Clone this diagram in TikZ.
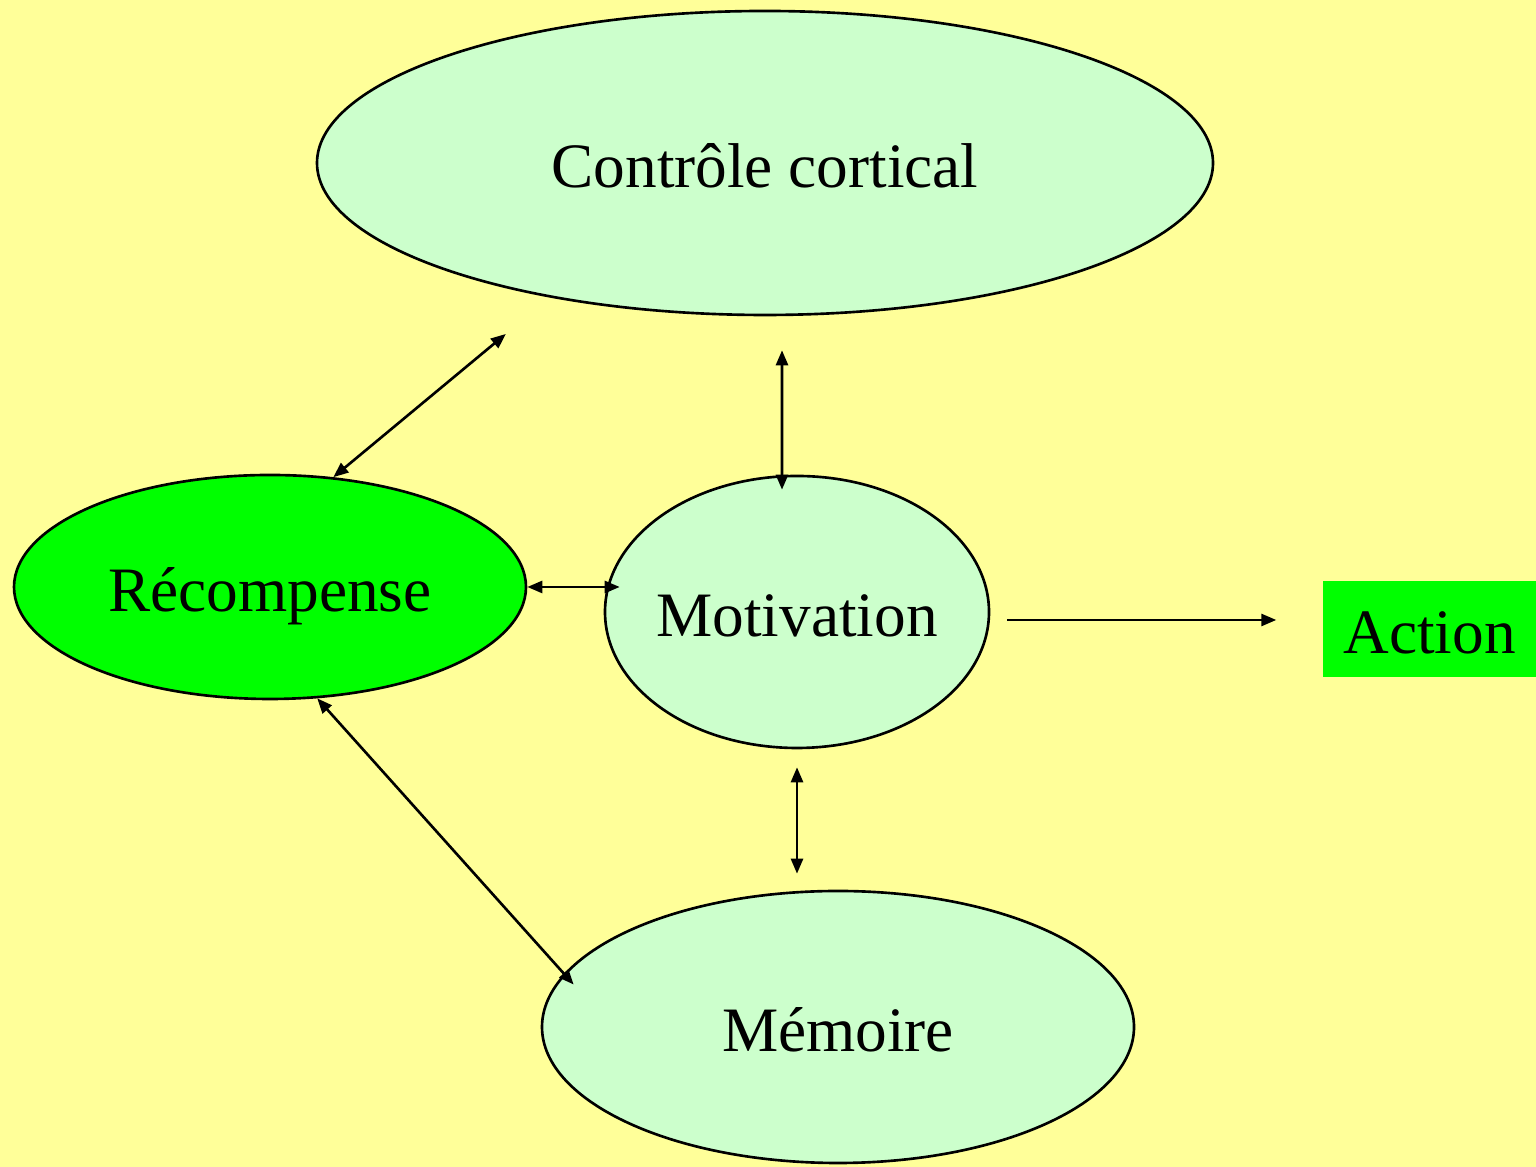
\documentclass[tikz,border=0pt]{standalone}
\usepackage{fontspec}
\setmainfont{Liberation Serif}
\usepackage{xcolor}
\usepackage{tikz}
\usetikzlibrary{positioning,calc,shapes.geometric,arrows.meta}
\definecolor{fond}{HTML}{FFFF99}
\definecolor{vertpale}{HTML}{CCFFCC}
\definecolor{vertvif}{HTML}{00FF00}

\begin{document}
\begin{tikzpicture}[
		zone/.style={ellipse, draw=black, line width=0.75pt, fill=vertpale, inner sep=0pt, inner xsep=-0.1cm, text height=0.6cm, text depth=0.1cm, font=\fontsize{18}{21}\selectfont},
		fl/.style={line width=0.75pt, {Triangle[length=0.15cm,width=0.12cm]}-{Triangle[length=0.15cm,width=0.12cm]}},
		fls/.style={line width=0.75pt, -{Triangle[length=0.15cm,width=0.12cm]}}]
		\fill[fond] (0,0) rectangle (15.36,11.67);
		\useasboundingbox (0,0) rectangle (15.36,11.67);
		
		\node[zone, minimum width=8.96cm, minimum height=3.04cm] (cortex) at (7.65,10.04) {Contrôle cortical};
		\node[zone, fill=vertvif, minimum width=5.12cm, minimum height=2.24cm] (recomp) at (2.70,5.80) {Récompense};
		\node[zone, minimum width=3.84cm, minimum height=2.72cm] (motiv) at (7.97,5.55) {Motivation};
		\node[zone, minimum width=5.92cm, minimum height=2.72cm] (memo) at (8.38,1.40) {Mémoire};
		\node[fill=vertvif, minimum width=2.13cm, minimum height=0.96cm, inner sep=0pt, text height=0.6cm, text depth=0.1cm, font=\fontsize{18}{21}\selectfont] (action) at (14.295,5.38) {Action};
		
		\draw[fl, shorten >=0.57cm] (recomp.60)--(cortex.212.5);
		\draw[fl, shorten <=0.34cm, shorten >=-0.15cm] ([xshift=0.17cm]cortex.south)--([xshift=-0.15cm]motiv.north);
		\draw[fl, shorten >=-0.16cm] (recomp.east)--(recomp.east -| motiv.west);
		\draw[fls, shorten <=0.17cm, shorten >=0.46cm] ([yshift=-0.08cm]motiv.east)--([yshift=-0.08cm]motiv.east -| action.west);
		\draw[fl, shorten <=0.18cm, shorten >=0.16cm] (motiv.south)--(motiv.south |- memo.north);
		\draw[fl, shorten >=-0.145cm] (recomp.293.6)--(memo.169.5);
	\end{tikzpicture}
\end{document}
